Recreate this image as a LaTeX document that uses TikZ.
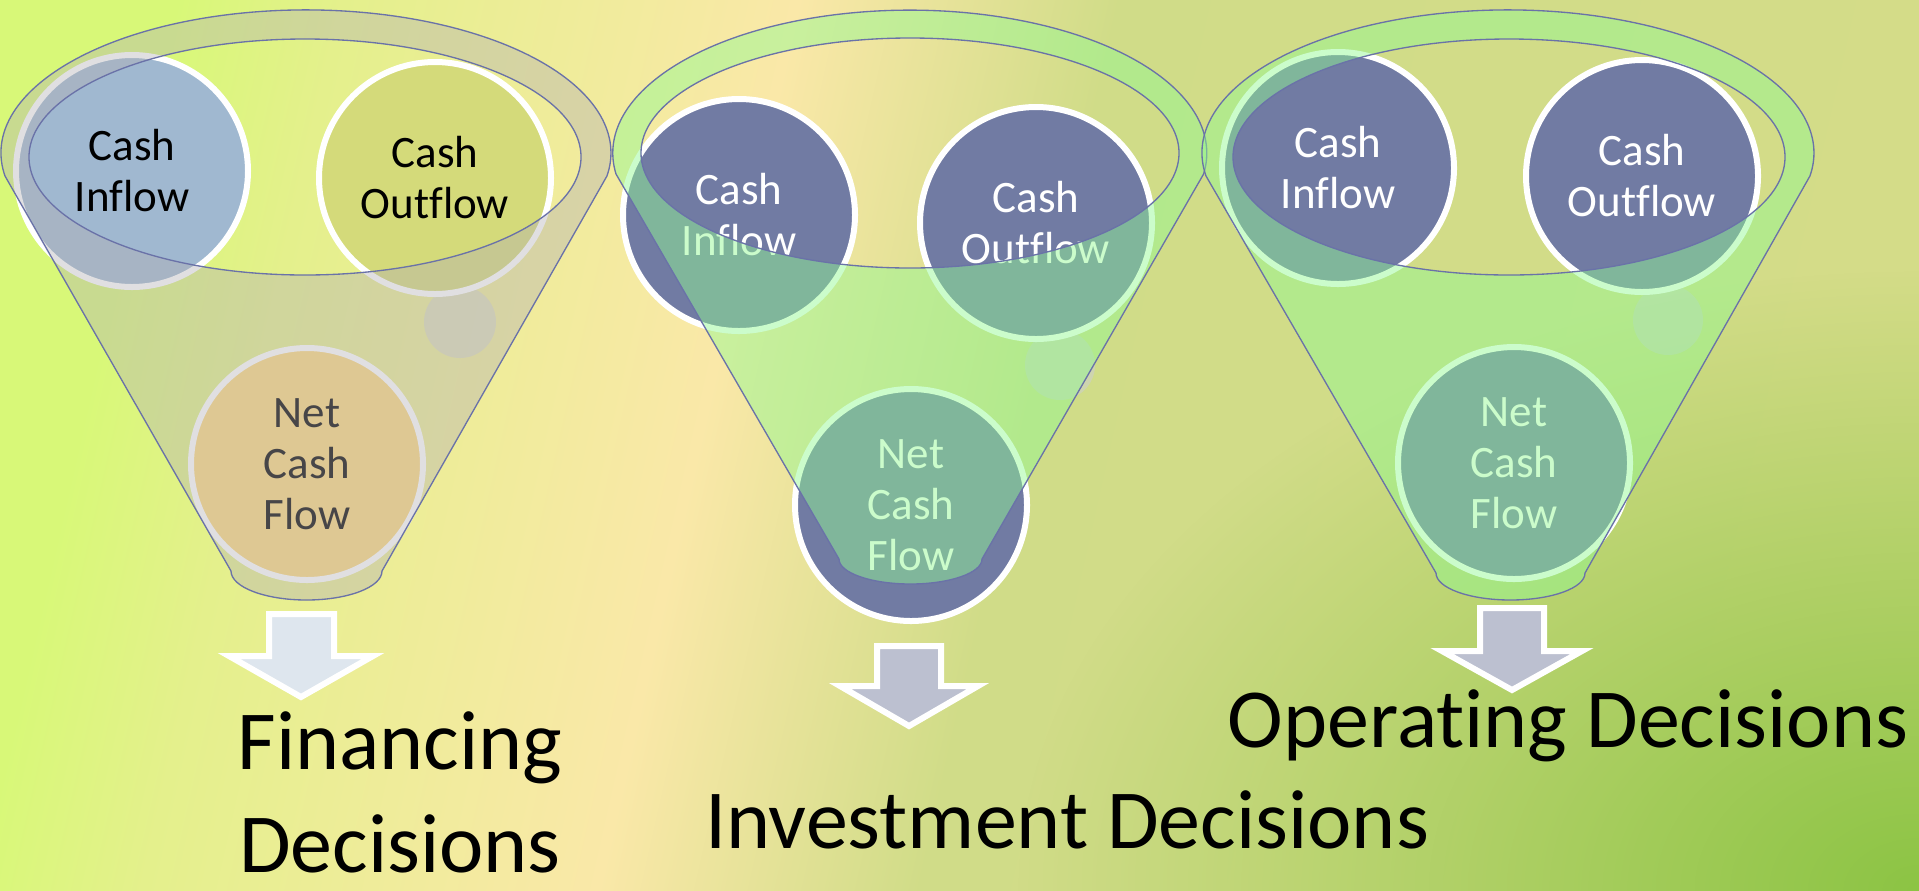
\documentclass[tikz,border=0pt]{standalone}
\usepackage{fontspec}
\setmainfont{Carlito}[Ligatures={NoCommon}]
\usetikzlibrary{fadings}

\pgfdeclarehorizontalshading{slidebg}{100bp}{rgb(0bp)=(0.847,0.973,0.471); rgb(25bp)=(0.847,0.973,0.471); rgb(29.7bp)=(0.894,0.941,0.549); rgb(42.6bp)=(0.980,0.910,0.659); rgb(51.7bp)=(0.816,0.863,0.533); rgb(75bp)=(0.831,0.863,0.533); rgb(100bp)=(0.831,0.863,0.533)}
\tikzfading[name=cornerglow, inner color=transparent!0, outer color=transparent!100]

\begin{document}
\begin{tikzpicture}[x=0.75pt,y=0.75pt,yscale=-1,xscale=1,
  cashcirc/.style={circle, draw=white, line width=4.5pt, minimum size=174pt, inner sep=0pt, align=center, font=\fontsize{33.75}{38.25}\selectfont},
  ghost/.style={fill={rgb, 255:red, 205; green, 205; blue, 215}, fill opacity=0.5},
  funnelline/.style={draw={rgb, 255:red, 106; green, 114; blue, 168}, line width=1pt, even odd rule},
  blockarr/.style={draw=white, line width=4.5pt, line join=miter},
  decision/.style={align=center, inner sep=0pt, font=\fontsize{63}{77.25}\selectfont}]
\useasboundingbox (0,0) rectangle (1919,890);

%Shape: Rectangle [background]
\shade [shading=slidebg, shading angle=-12.7] (0,0) rectangle (1919,890);
\begin{scope}
\clip (0,0) rectangle (1919,890);
\fill [color={rgb, 255:red, 140; green, 196; blue, 68}, path fading=cornerglow] (1919,890) ellipse [x radius=900, y radius=620];
\end{scope}

%Shape: Circle [ghost]
\fill [ghost] (460,322) circle [radius=36];
% Circle Node
\draw (132,171) node [cashcirc, fill={rgb, 255:red, 160; green, 184; blue, 208}] (finIn) {Cash\\Inflow};
% Circle Node
\draw (435,178) node [cashcirc, fill={rgb, 255:red, 212; green, 218; blue, 122}] (finOut) {Cash\\Outflow};
% Circle Node
\draw (307,464) node [cashcirc, fill={rgb, 255:red, 252; green, 217; blue, 125}] (finNet) {Net\\Cash\\Flow};
%Shape: Funnel
\draw [funnelline, fill={rgb, 255:red, 178; green, 175; blue, 180}, fill opacity=0.4] (5,176) arc [start angle=170.7, end angle=369.3, x radius=305, y radius=143] -- (382,571) arc [start angle=0, end angle=180, x radius=75.5, y radius=29] -- cycle (305,157) ellipse [x radius=276, y radius=118];

%Shape: Circle [ghost]
\fill [ghost] (1060,365) circle [radius=35];
% Circle Node
\draw (739,215) node [cashcirc, fill={rgb, 255:red, 113; green, 123; blue, 163}, text=white] (invIn) {Cash\\Inflow};
% Circle Node
\draw (1036,223) node [cashcirc, fill={rgb, 255:red, 113; green, 123; blue, 163}, text=white] (invOut) {Cash\\Outflow};
% Circle Node
\draw (911,505) node [cashcirc, fill={rgb, 255:red, 113; green, 123; blue, 163}, text=white] (invNet) {Net\\Cash\\Flow};
%Shape: Funnel
\draw [funnelline, fill={rgb, 255:red, 146; green, 249; blue, 146}, fill opacity=0.47] (616,174) arc [start angle=171.6, end angle=368.4, x radius=297, y radius=143] -- (982,559) arc [start angle=0, end angle=180, x radius=71.5, y radius=25] -- cycle (910,153) ellipse [x radius=269, y radius=115];

%Shape: Circle [ghost]
\fill [ghost] (1668,320) circle [radius=35];
% Circle Node
\draw (1338,168) node [cashcirc, fill={rgb, 255:red, 113; green, 123; blue, 163}, text=white] (opIn) {Cash\\Inflow};
% Circle Node
\draw (1642,176) node [cashcirc, fill={rgb, 255:red, 113; green, 123; blue, 163}, text=white] (opOut) {Cash\\Outflow};
% Circle Node
\draw (1514,463) node [cashcirc, fill={rgb, 255:red, 113; green, 123; blue, 163}, text=white] (opNet) {Net\\Cash\\Flow};
%Shape: Funnel
\draw [funnelline, fill={rgb, 255:red, 146; green, 249; blue, 146}, fill opacity=0.47] (1206,176) arc [start angle=170.7, end angle=369.3, x radius=306, y radius=143] -- (1585,573) arc [start angle=0, end angle=180, x radius=74.5, y radius=27] -- cycle (1509,157) ellipse [x radius=276, y radius=118];

%Shape: Down Arrow
\draw [blockarr, fill={rgb, 255:red, 222; green, 230; blue, 238}] (269,614) -- (334,614) -- (334,656) -- (373,656) -- (301,697) -- (229,656) -- (269,656) -- cycle;
%Shape: Down Arrow
\draw [blockarr, fill={rgb, 255:red, 188; green, 192; blue, 208}] (877,646) -- (941,646) -- (941,686) -- (978,686) -- (909,726) -- (840,686) -- (877,686) -- cycle;
%Shape: Down Arrow
\draw [blockarr, fill={rgb, 255:red, 188; green, 192; blue, 208}] (1480,608) -- (1544,608) -- (1544,651) -- (1582,651) -- (1512,690) -- (1442,651) -- (1480,651) -- cycle;

% Text Node
\draw (400,872) node [decision, anchor=base] (finDec) {Financing\\Decisions};
% Text Node
\draw (1067,848) node [decision, anchor=base] (invDec) {Investment Decisions};
% Text Node
\draw (1568,747) node [decision, anchor=base] (opDec) {Operating Decisions};

\end{tikzpicture}
\end{document}
